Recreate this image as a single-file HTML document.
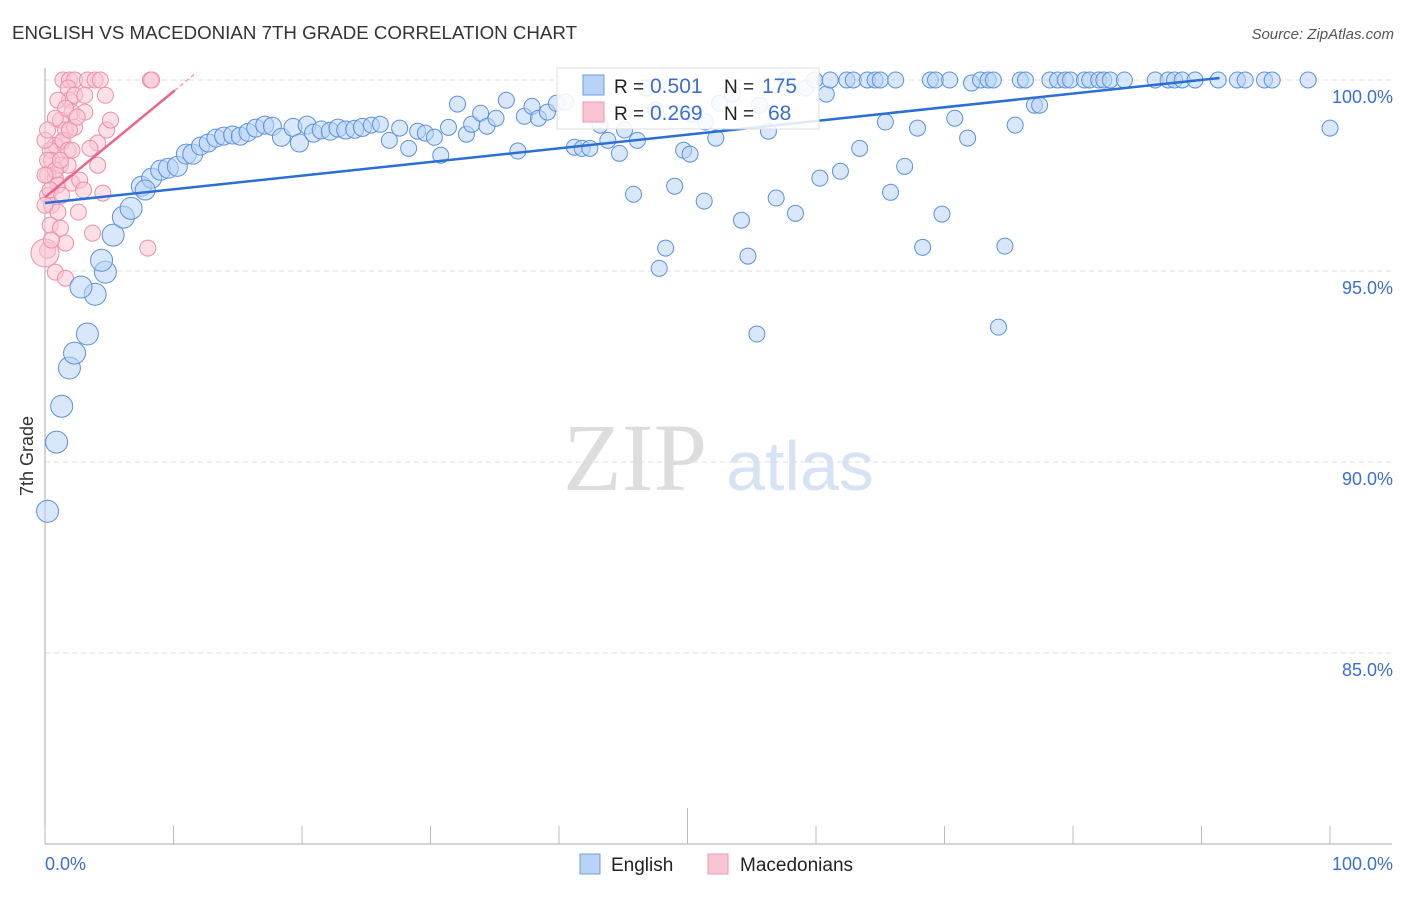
<!DOCTYPE html>
<html><head><meta charset="utf-8"><style>
body{margin:0;background:#fff;font-family:"Liberation Sans",sans-serif;}
</style></head><body>
<svg width="1406" height="892" xmlns="http://www.w3.org/2000/svg" id="svg" style="font-family:'Liberation Sans',sans-serif">
<text x="12" y="39" font-size="18" fill="#333" textLength="565" lengthAdjust="spacingAndGlyphs">ENGLISH VS MACEDONIAN 7TH GRADE CORRELATION CHART</text>
<text x="1394" y="39" font-size="15" fill="#555" font-style="italic" text-anchor="end">Source: ZipAtlas.com</text>
<text transform="translate(33,456) rotate(-90)" font-size="18" fill="#333" text-anchor="middle">7th Grade</text>
<g>
<text x="635" y="490" font-family="Liberation Serif,serif" font-size="96" fill="#ddd" text-anchor="middle">ZIP</text>
<text x="800" y="490" font-size="70" fill="#d5e3f5" text-anchor="middle">atlas</text>
</g>
<g id="grid"></g><g id="axes"></g><g id="pink"></g><g id="blue"></g><g id="trend"></g>
<g>
<rect x="557" y="68" width="262" height="61" fill="#fff" fill-opacity="0.85" stroke="#ddd"/>
<rect x="583" y="75" width="21" height="20" fill="#b8d3f5" stroke="#6c9ee0"/>
<rect x="583" y="102" width="21" height="20" fill="#f9c4d3" stroke="#ec98b0"/>
<text x="614" y="93" font-size="19" fill="#222">R =</text>
<text x="650" y="93" font-size="21" fill="#3a6fd0">0.501</text>
<text x="724" y="93" font-size="19" fill="#222">N =</text>
<text x="762" y="93" font-size="21" fill="#3a6fd0">175</text>
<text x="614" y="120" font-size="19" fill="#222">R =</text>
<text x="650" y="120" font-size="21" fill="#3a6fd0">0.269</text>
<text x="724" y="120" font-size="19" fill="#222">N =</text>
<text x="768" y="120" font-size="21" fill="#3a6fd0">68</text>
</g>
<g>
<rect x="580" y="854" width="20" height="20" fill="#b8d3f5" stroke="#6c9ee0"/>
<text x="611" y="871" font-size="19" fill="#222">English</text>
<rect x="708" y="854" width="20" height="20" fill="#f9c4d3" stroke="#ec98b0"/>
<text x="740" y="871" font-size="19" fill="#222">Macedonians</text>
</g>
</svg>
<script>
const yTicks=[100,95,90,85];
const yTickLabels=["100.0%","95.0%","90.0%","85.0%"];
const xTickLabels=["0.0%","100.0%"];
const blueX=[0.2,0.9,1.3,1.9,2.3,3.3,3.9,2.8,4.7,4.4,5.3,6.1,6.7,7.5,8.3,7.8,9.0,9.6,10.3,11.0,11.5,12.1,12.7,13.3,13.9,14.6,15.2,15.8,16.4,17.1,17.7,18.4,19.3,19.8,20.4,20.9,21.5,22.2,22.8,23.4,24.1,24.7,25.4,26.1,26.8,27.6,28.3,29.0,29.6,30.3,30.8,31.4,32.1,32.8,33.2,33.9,34.4,35.1,35.9,36.8,37.3,37.9,38.4,39.1,39.8,40.5,41.2,41.8,42.4,43.2,43.8,44.7,45.1,46.1,45.8,46.8,47.5,48.3,47.8,49.0,49.7,50.2,50.4,51.3,51.4,52.2,52.5,53.5,54.2,54.7,55.4,55.6,56.3,56.9,57.7,58.4,59.2,59.9,60.3,60.8,61.1,61.9,62.4,62.9,63.4,64.0,64.6,65.0,65.4,65.8,66.2,66.9,67.9,68.3,68.9,69.3,69.8,70.4,70.8,71.8,72.1,72.8,73.4,73.8,74.2,74.7,75.5,75.9,76.3,77.0,77.4,78.2,78.8,79.4,79.8,80.9,81.3,82.0,82.4,82.9,84.0,86.4,87.4,87.9,88.5,89.5,91.3,92.8,93.4,94.9,95.5,98.3,100];
const blueY=[88.71,90.52,91.46,92.46,92.85,93.35,94.39,94.58,94.97,95.28,95.94,96.41,96.64,97.22,97.43,97.12,97.64,97.69,97.74,98.06,98.06,98.27,98.35,98.48,98.53,98.56,98.53,98.63,98.74,98.82,98.79,98.50,98.76,98.35,98.82,98.61,98.69,98.66,98.74,98.69,98.71,98.76,98.82,98.84,98.42,98.74,98.21,98.66,98.61,98.50,98.03,98.76,99.37,98.58,98.84,99.13,98.79,99.00,99.47,98.14,99.05,99.31,99.00,99.16,99.39,99.42,98.24,98.21,98.21,98.82,98.42,98.08,98.69,98.42,97.01,99.79,99.21,95.60,95.07,97.22,98.16,98.06,99.10,96.83,98.90,98.48,99.39,99.63,96.33,95.39,93.35,99.34,98.66,96.91,100,96.51,99.79,100,97.43,99.63,100,97.61,100,100,98.21,100,100,100,98.90,97.06,100,97.74,98.74,95.62,100,100,96.49,100,99.00,98.48,99.92,100,100,100,93.53,95.65,98.82,100,100,99.34,99.34,100,100,100,100,100,100,100,100,100,100,100,100,100,100,100,100,100,100,100,100,100,98.74];
const pinkX=[1.4,1.9,2.3,3.3,3.9,4.3,8.2,8.3,1.8,1.9,2.1,2.3,1.2,1.6,1.3,0.8,0.4,0.5,0.2,0.8,1.0,0.2,0.5,1.0,0.4,1.2,1.6,0.2,0,0.8,1.6,2.6,3.7,4.1,4.5,4.8,5.1,4.1,3.1,2.3,1.2,1.8,2.1,2.7,3.0,3.5,1.0,1.6,4.7,3.1,1.4,0.8,8.0,0,0.2,0.4,0,0.5,1.9,2.5,1.3,0.2,0.8,1.8,0,1.2,2.1];
const pinkY=[100,100,100,100,100,100,100,100,99.79,99.47,99.16,99.60,98.95,98.69,98.37,98.29,98.16,97.90,97.51,97.43,97.25,96.98,96.72,96.54,96.20,96.12,95.73,95.54,95.47,94.97,94.81,96.54,95.99,97.77,97.04,98.69,98.95,98.35,99.16,98.76,97.77,97.77,97.30,97.38,97.12,98.21,99.47,99.26,99.60,99.60,98.42,99.00,95.60,98.42,97.90,97.12,96.72,95.81,98.69,99.03,96.98,98.69,97.64,98.16,97.51,97.90,98.16];
const blueTrend=[96.78,0.0358,91.4];
const pinkTrend=[96.93,0.277,10.1];
const NS='http://www.w3.org/2000/svg';
const X0=45,X1=1330,YT=80,PPU=38.2;
const sx=v=>X0+(X1-X0)*v/100;
const sy=v=>YT+(100-v)*PPU;
function mk(tag,attrs,parent){const e=document.createElementNS(NS,tag);for(const k in attrs)e.setAttribute(k,attrs[k]);document.getElementById(parent).appendChild(e);return e;}
yTicks.forEach((t,i)=>{
 const g=mk('line',{x1:X0,x2:1392,y1:sy(t),y2:sy(t),stroke:'#ddd','stroke-dasharray':'5,4'},'grid');
 
 
 const l=mk('text',{x:1393,y:sy(t)+23,'font-size':18,fill:'#3a6fd0','text-anchor':'end'},'grid');
 l.textContent=yTickLabels[i];
 
 
});
const ax=mk('line',{x1:X0,x2:X0,y1:68,y2:sy(80),stroke:'#aaa'},'axes');


const bx=mk('line',{x1:X0,x2:1392,y1:sy(80),y2:sy(80),stroke:'#aaa'},'axes');


for(let i=0;i<=10;i++){
 const tk=mk('line',{x1:sx(i*10),x2:sx(i*10),y1:i==5?808:826,y2:sy(80),stroke:'#bbb'},'axes');
 
 
}
[0,100].forEach((v,i)=>{
 const t=mk('text',{x:i?1393:45,y:870,'font-size':18,fill:'#3a6fd0','text-anchor':i?'end':'start'},'axes');
 t.textContent=xTickLabels[i];
 
 
});
pinkX.forEach((x,i)=>{
 const c=mk('circle',{cx:sx(x),cy:sy(pinkY[i]),r:x===0&&pinkY[i]<95.6?14:8,fill:'#f9c4d3','fill-opacity':0.55,stroke:'#ec8fab','stroke-width':1},'pink');
 
 
});
blueX.forEach((x,i)=>{
 const c=mk('circle',{cx:sx(x),cy:sy(blueY[i]),r:x<7?11:(x<12?10:(x<25?9:8)),fill:'#b8d3f5','fill-opacity':0.55,stroke:'#5b91de','stroke-width':1},'blue');
 
 
});
const bt=mk('line',{x1:sx(0),y1:sy(blueTrend[0]),x2:sx(blueTrend[2]),y2:sy(blueTrend[0]+blueTrend[1]*blueTrend[2]),stroke:'#2a6fd6','stroke-width':2.5},'trend');


const pt=mk('line',{x1:sx(0),y1:sy(pinkTrend[0]),x2:sx(pinkTrend[2]),y2:sy(pinkTrend[0]+pinkTrend[1]*pinkTrend[2]),stroke:'#e8668c','stroke-width':2.5},'trend');


const pd=mk('line',{x1:sx(pinkTrend[2]),y1:sy(pinkTrend[0]+pinkTrend[1]*pinkTrend[2]),x2:sx(11.8),y2:sy(pinkTrend[0]+pinkTrend[1]*11.8),stroke:'#f0a0b8','stroke-width':1.5,'stroke-dasharray':'4,3'},'trend');


</script>
</body></html>
